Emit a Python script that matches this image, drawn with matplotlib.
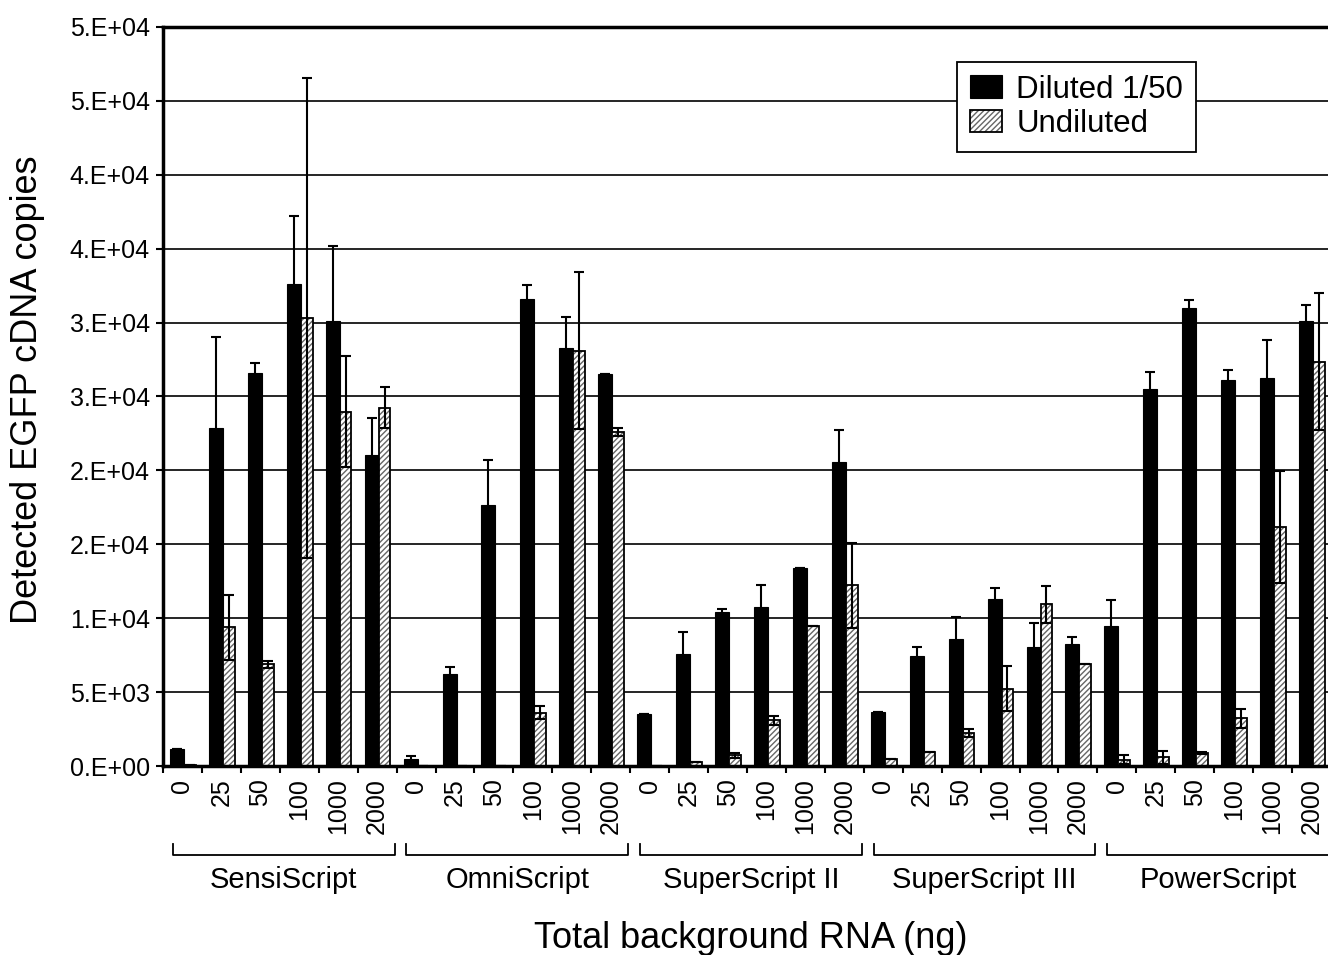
import matplotlib
matplotlib.use("Agg")
from matplotlib import pyplot as plt
import numpy as np

plt.rcParams['font.family'] = ['Liberation Sans', 'DejaVu Sans']

groups = ["SensiScript", "OmniScript", "SuperScript II", "SuperScript III", "PowerScript"]
rnaAmounts = ["0", "25", "50", "100", "1000", "2000"]

# detected copies, 6 RNA amounts per enzyme
diluted = [1150, 22840, 26600, 32600, 30080, 21070,
           490, 6230, 17690, 31620, 28310, 26510,
           3540, 7600, 10450, 10780, 13400, 20540,
           3640, 7470, 8580, 11300, 8030, 8260,
           9440, 25490, 30960, 26110, 26280, 30080]
dilutedErr = [0, 6160, 700, 4600, 5100, 2500,
              200, 500, 3000, 950, 2100, 0,
              0, 1500, 200, 1450, 0, 2200,
              0, 600, 1500, 750, 1650, 500,
              1770, 1150, 600, 700, 2550, 1100]
undiluted = [100, 9400, 6880, 30310, 23980, 24250,
             0, 0, 0, 3600, 28110, 22610,
             0, 260, 720, 3080, 9500, 12220,
             490, 980, 2230, 5240, 10940, 6910,
             430, 590, 880, 3240, 16190, 27360]
undilutedErr = [0, 2200, 250, 16250, 3770, 1400,
                0, 0, 0, 450, 5300, 250,
                0, 0, 160, 330, 0, 2900,
                0, 0, 300, 1550, 1250, 0,
                300, 450, 100, 650, 3800, 4650]

yTicks = [0, 5000, 10000, 15000, 20000, 25000, 30000, 35000, 40000, 45000, 50000]
yTickLabels = ["0.E+00", "5.E+03", "1.E+04", "2.E+04", "2.E+04", "3.E+04",
               "3.E+04", "4.E+04", "4.E+04", "5.E+04", "5.E+04"]

W, H = 1328, 955
fig = plt.figure(figsize=(W / 100, H / 100), dpi=100)
ax = fig.add_axes([163 / W, (H - 766) / H, 1168 / W, 739 / H])

n = len(diluted)
x = np.arange(n)

ax.set_axisbelow(True)
ax.yaxis.grid(True, color="black", linewidth=1.2)

dilBars = ax.bar(x - 0.32, diluted, width=0.36, align="edge", color="black",
                 edgecolor="black", linewidth=0.8, zorder=2)
hatchBars = ax.bar(x + 0.04, undiluted, width=0.30, align="edge", color="white",
                   edgecolor="#666666", hatch="//////", linewidth=0, zorder=2)
outlineBars = ax.bar(x + 0.04, undiluted, width=0.30, align="edge", fill=False,
                     edgecolor="black", linewidth=1.3, zorder=2)

ax.errorbar(x - 0.14, diluted, yerr=dilutedErr, fmt="none", ecolor="black",
            elinewidth=1.5, capsize=3.3, capthick=1.5, zorder=3)
ax.errorbar(x + 0.19, undiluted, yerr=undilutedErr, fmt="none", ecolor="black",
            elinewidth=1.5, capsize=3.3, capthick=1.5, zorder=3)

ax.set_xlim(-0.5, n - 0.5)
ax.set_ylim(0, 50000)
ax.set_yticks(yTicks)
ax.set_yticklabels(yTickLabels, fontsize=18)
ax.tick_params(axis="y", direction="out", length=5, width=1.5, pad=4.5)

ax.set_xticks(x)
ax.set_xticklabels(rnaAmounts * len(groups), rotation=90, fontsize=18, va="top")
ax.tick_params(axis="x", which="major", length=0, pad=9)
ax.set_xticks(np.arange(n + 1) - 0.5, minor=True)
ax.tick_params(axis="x", which="minor", direction="out", length=5, width=1.5)

for side in ["left", "top", "bottom"]:
    ax.spines[side].set_linewidth(2.5)
ax.spines["right"].set_visible(False)

# brackets under each enzyme group
for i, name in enumerate(groups):
    left = i * 6 - 0.5 + 0.25
    right = i * 6 + 5.5 - 0.05
    ax.plot([left, left, right, right], [-0.1055, -0.1204, -0.1204, -0.1055],
            color="black", linewidth=1.3, transform=ax.get_xaxis_transform(),
            clip_on=False)
    ax.text((left + right) / 2, -0.154, name, fontsize=21, ha="center", va="center",
            transform=ax.get_xaxis_transform())

fig.text(751 / W, 1 - 938 / H, "Total background RNA (ng)", fontsize=26,
         ha="center", va="center")
fig.text(28 / W, 1 - 390 / H, "Detected EGFP cDNA copies", fontsize=26,
         ha="center", va="center", rotation=90)

leg = ax.legend([dilBars, (hatchBars, outlineBars)], ["Diluted 1/50", "Undiluted"],
                loc="upper left", bbox_to_anchor=(957 / W, 1 - 62 / H),
                bbox_transform=fig.transFigure, fontsize=22.5, frameon=True,
                fancybox=False, edgecolor="black", framealpha=1, borderpad=0.4,
                labelspacing=0.15, handlelength=1.05, handleheight=0.72,
                handletextpad=0.45, borderaxespad=0)
leg.get_frame().set_linewidth(1.3)

fig.savefig("out.png", dpi=100)
